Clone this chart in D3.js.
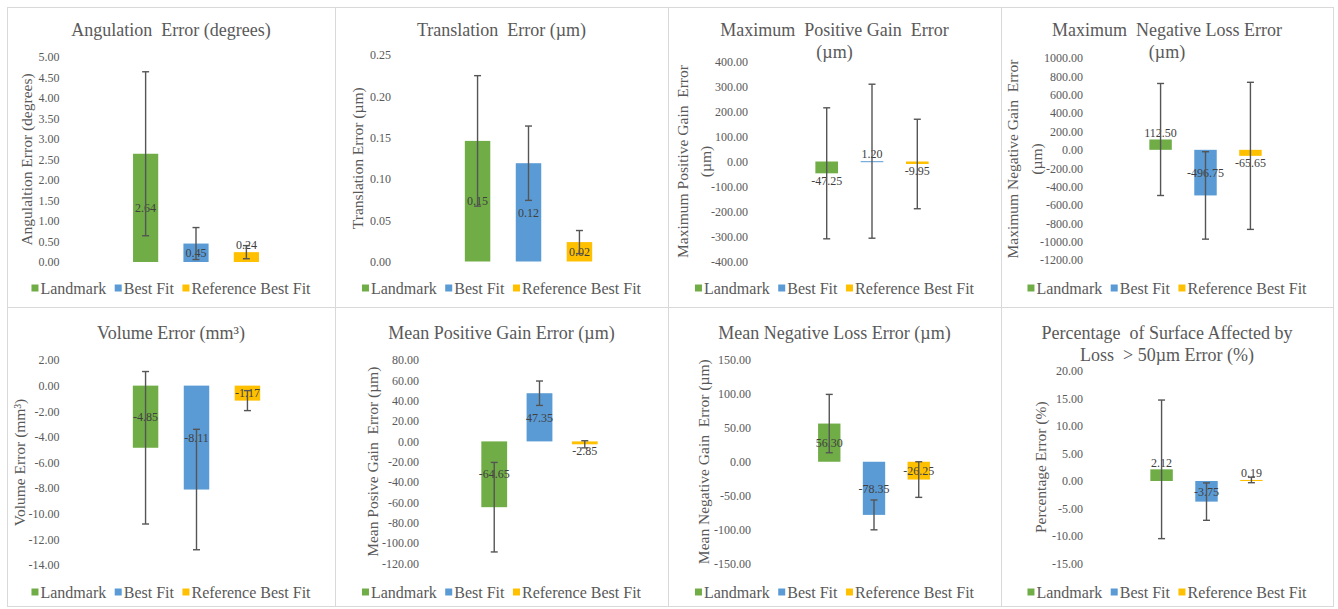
<!DOCTYPE html>
<html><head><meta charset="utf-8">
<script src="https://cdn.jsdelivr.net/npm/d3@7"></script>
<style>
body{margin:0;background:#fff;}
text{white-space:pre;}
</style></head><body>
<svg id="chart" width="1338" height="609" font-family="Liberation Serif"></svg>
<script>
// ---------- DATA ----------
const series = ["Landmark", "Best Fit", "Reference Best Fit"];

const angulationMean = [2.64, 0.45, 0.24];
const angulationErr  = [2.00, 0.39, 0.16];
const angulationTicks = [0, 0.5, 1, 1.5, 2, 2.5, 3, 3.5, 4, 4.5, 5];

const translationMean = [0.146, 0.119, 0.0235];
const translationErr  = [0.079, 0.045, 0.014];
const translationTicks = [0, 0.05, 0.1, 0.15, 0.2, 0.25];

const maxPosMean = [-47.25, 1.20, -9.95];
const maxPosErr  = [262, 308, 179];
const maxPosTicks = [-400, -300, -200, -100, 0, 100, 200, 300, 400];

const maxNegMean = [112.50, -496.75, -65.65];
const maxNegErr  = [610, 476, 801];
const maxNegTicks = [-1200, -1000, -800, -600, -400, -200, 0, 200, 400, 600, 800, 1000];

const volumeMean = [-4.85, -8.11, -1.17];
const volumeErr  = [5.95, 4.70, 0.78];
const volumeTicks = [-14, -12, -10, -8, -6, -4, -2, 0, 2];

const meanPosMean = [-64.65, 47.35, -2.85];
const meanPosErr  = [44, 12, 3.5];
const meanPosTicks = [-120, -100, -80, -60, -40, -20, 0, 20, 40, 60, 80];

const meanNegMean = [56.30, -78.35, -26.25];
const meanNegErr  = [43, 22, 26.25];
const meanNegTicks = [-150, -100, -50, 0, 50, 100, 150];

const percentMean = [2.12, -3.75, 0.19];
const percentErr  = [12.6, 3.4, 0.5];
const percentTicks = [-15, -10, -5, 0, 5, 10, 15, 20];

const chartTitles = [
  ["Angulation  Error (degrees)"],
  ["Translation  Error (µm)"],
  ["Maximum  Positive Gain  Error", "(µm)"],
  ["Maximum  Negative Loss Error", "(µm)"],
  ["Volume Error (mm³)"],
  ["Mean Positive Gain Error (µm)"],
  ["Mean Negative Loss Error (µm)"],
  ["Percentage  of Surface Affected by", "Loss  > 50µm Error (%)"]
];
const axisTitles = [
  ["Angulaltion Error (degrees)"],
  ["Translation Error (µm)"],
  ["Maximum Positive Gain  Error", "(µm)"],
  ["Maximum Negative Gain  Error", "(µm)"],
  ["Volume Error (mm³)"],
  ["Mean Posive Gain  Error (µm)"],
  ["Mean Negative Gain  Error (µm)"],
  ["Percentage Error (%)"]
];

// ---------- STYLE / LAYOUT ----------
const FONT = '"Liberation Serif", "DejaVu Serif", serif';
const colors = ["#70AD47", "#5B9BD5", "#FFC000"];
const textCol = "#595959";
const colX = [7, 335, 668, 1001, 1333];
const rowY = [7, 307, 606];
const titleBase = [[36, 58], [338.5, 360.5]];
const legendY = [288, 592];

const layout = [
  {top: 57,  bottom: 262,   L: 62,    R: 330,    tickX: 59.5, yTitleX: [27],         pi: 0.5},
  {top: 55,  bottom: 261.5, L: 393,   R: 664,    tickX: 391,  yTitleX: [358],        pi: 0.5},
  {top: 61.5,bottom: 261.5, L: 751.5, R: 992.5,  tickX: 748,  yTitleX: [683, 706],   pi: 0.5},
  {top: 58,  bottom: 260,   L: 1086,  R: 1325,   tickX: 1083, yTitleX: [1013, 1037], pi: 0.5},
  {top: 360, bottom: 565,   L: 61,    R: 332,    tickX: 59.5, yTitleX: [20],         pi: 0.5},
  {top: 360, bottom: 563.5, L: 417.5, R: 661.5,  tickX: 419,  yTitleX: [373],        pi: 0.43},
  {top: 360, bottom: 563.5, L: 755,   R: 993,    tickX: 751,  yTitleX: [704],        pi: 0.5},
  {top: 371, bottom: 563.5, L: 1087,  R: 1326,   tickX: 1083, yTitleX: [1041],       pi: 0.5}
];

const panelData = [
  [angulationMean, angulationErr, angulationTicks],
  [translationMean, translationErr, translationTicks],
  [maxPosMean, maxPosErr, maxPosTicks],
  [maxNegMean, maxNegErr, maxNegTicks],
  [volumeMean, volumeErr, volumeTicks],
  [meanPosMean, meanPosErr, meanPosTicks],
  [meanNegMean, meanNegErr, meanNegTicks],
  [percentMean, percentErr, percentTicks]
];

const fmt = v => (Math.abs(v) < 1e-9 ? 0 : v).toFixed(2);

const svg = d3.select("#chart");
svg.append("rect").attr("width", 1338).attr("height", 609).attr("fill", "#fff");

// panel borders
svg.append("rect").attr("x", colX[0] + 0.5).attr("y", rowY[0] + 0.5)
  .attr("width", colX[4] - colX[0]).attr("height", rowY[2] - rowY[0])
  .attr("fill", "none").attr("stroke", "#d9d9d9");
[1, 2, 3].forEach(i => svg.append("line").attr("x1", colX[i] + 0.5).attr("x2", colX[i] + 0.5)
  .attr("y1", rowY[0]).attr("y2", rowY[2]).attr("stroke", "#d9d9d9"));
svg.append("line").attr("x1", colX[0]).attr("x2", colX[4]).attr("y1", rowY[1] + 0.5).attr("y2", rowY[1] + 0.5)
  .attr("stroke", "#d9d9d9");

panelData.forEach(([means, errs, ticks], i) => {
  const col = i % 4, row = Math.floor(i / 4);
  const lay = layout[i];
  const px0 = colX[col], px1 = colX[col + 1];
  const pcx = (px0 + px1) / 2;
  const g = svg.append("g").attr("font-family", FONT);

  // title
  chartTitles[i].forEach((t, k) => {
    g.append("text").attr("x", pcx).attr("y", titleBase[row][k]).attr("font-family", FONT)
      .attr("text-anchor", "middle").attr("font-size", 18).attr("fill", textCol).text(t);
  });

  const y = d3.scaleLinear().domain(d3.extent(ticks)).range([lay.bottom, lay.top]);
  const x = d3.scaleBand().domain(series).range([lay.L, lay.R]).paddingInner(lay.pi).paddingOuter(1.41);

  // y axis
  const ax = g.append("g").attr("transform", `translate(${lay.tickX},0)`)
    .call(d3.axisLeft(y).tickValues(ticks).tickFormat(fmt).tickSize(0).tickPadding(0));
  ax.attr("font-family", FONT).attr("font-size", 12);
  ax.select(".domain").remove();
  ax.selectAll("text").attr("fill", textCol);

  // axis title
  const ymid = (lay.top + lay.bottom) / 2;
  axisTitles[i].forEach((t, k) => {
    g.append("text").attr("transform", `translate(${lay.yTitleX[k]},${ymid}) rotate(-90)`)
      .attr("text-anchor", "middle").attr("dy", "0.35em").attr("font-size", 15.5).attr("font-family", FONT)
      .attr("fill", textCol).text(t);
  });

  // bars
  series.forEach((s, j) => {
    const v = means[j];
    const y0 = y(0), yv = y(v);
    const top = Math.min(y0, yv), h = Math.max(Math.abs(yv - y0), 1);
    g.append("rect").attr("x", x(s)).attr("y", top).attr("width", x.bandwidth()).attr("height", h)
      .attr("fill", colors[j]);
  });

  // labels
  series.forEach((s, j) => {
    const v = means[j];
    const y0 = y(0), yv = y(v);
    const h = Math.abs(yv - y0);
    let ly;
    if (h >= 14) ly = (y0 + yv) / 2;
    else ly = v >= 0 ? yv - 7 : yv + 7;
    g.append("text").attr("x", x(s) + x.bandwidth() / 2).attr("y", ly).attr("dy", "0.35em")
      .attr("text-anchor", "middle").attr("font-size", 12).attr("font-family", FONT)
      .attr("fill", "#404040").text(fmt(v));
  });

  // error bars
  series.forEach((s, j) => {
    const cx = x(s) + x.bandwidth() / 2;
    const hi = y(means[j] + errs[j]), lo = y(means[j] - errs[j]);
    const eg = g.append("g").attr("stroke", "#555555").attr("stroke-width", 1.4);
    eg.append("line").attr("x1", cx).attr("x2", cx).attr("y1", hi).attr("y2", lo);
    eg.append("line").attr("x1", cx - 3.5).attr("x2", cx + 3.5).attr("y1", hi).attr("y2", hi);
    eg.append("line").attr("x1", cx - 3.5).attr("x2", cx + 3.5).attr("y1", lo).attr("y2", lo);
  });

  // legend
  const lg = g.append("g");
  let cur = 0;
  series.forEach((s, j) => {
    lg.append("rect").attr("x", cur).attr("y", -3.5).attr("width", 7).attr("height", 7).attr("fill", colors[j]);
    const t = lg.append("text").attr("x", cur + 9).attr("y", 0).attr("dy", "0.35em").attr("font-family", FONT)
      .attr("font-size", 16).attr("fill", textCol).text(s);
    cur += 9 + t.node().getComputedTextLength() + 8.5;
  });
  const lw = cur - 8.5;
  lg.attr("transform", `translate(${pcx - lw / 2},${legendY[row]})`);
});
</script>
</body></html>
